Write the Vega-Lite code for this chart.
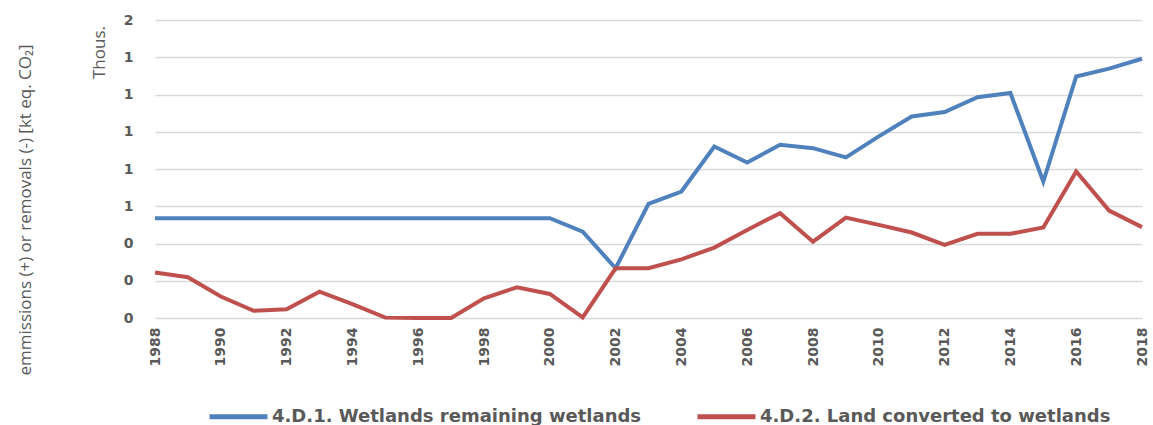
{
  "$schema": "https://vega.github.io/schema/vega-lite/v6.json",
  "width": 987,
  "height": 298,
  "autosize": {"type": "none"},
  "padding": {"left": 155, "top": 20, "right": 11, "bottom": 107},
  "background": "white",
  "title": {
    "text": "emmissions (+) or removals (-) [kt eq. CO₂]",
    "orient": "left",
    "anchor": "middle",
    "font": "Open Sans",
    "fontSize": 17,
    "fontWeight": "normal",
    "color": "#595959",
    "offset": 55,
    "dx": -41
  },
  "config": {
    "view": {"stroke": null},
    "font": "Open Sans"
  },
  "data": {
    "values": [
      {"year": 1988, "series": "4.D.1. Wetlands remaining wetlands", "value": 536},
      {"year": 1989, "series": "4.D.1. Wetlands remaining wetlands", "value": 536},
      {"year": 1990, "series": "4.D.1. Wetlands remaining wetlands", "value": 536},
      {"year": 1991, "series": "4.D.1. Wetlands remaining wetlands", "value": 536},
      {"year": 1992, "series": "4.D.1. Wetlands remaining wetlands", "value": 536},
      {"year": 1993, "series": "4.D.1. Wetlands remaining wetlands", "value": 536},
      {"year": 1994, "series": "4.D.1. Wetlands remaining wetlands", "value": 536},
      {"year": 1995, "series": "4.D.1. Wetlands remaining wetlands", "value": 536},
      {"year": 1996, "series": "4.D.1. Wetlands remaining wetlands", "value": 536},
      {"year": 1997, "series": "4.D.1. Wetlands remaining wetlands", "value": 536},
      {"year": 1998, "series": "4.D.1. Wetlands remaining wetlands", "value": 536},
      {"year": 1999, "series": "4.D.1. Wetlands remaining wetlands", "value": 536},
      {"year": 2000, "series": "4.D.1. Wetlands remaining wetlands", "value": 536},
      {"year": 2001, "series": "4.D.1. Wetlands remaining wetlands", "value": 464},
      {"year": 2002, "series": "4.D.1. Wetlands remaining wetlands", "value": 267},
      {"year": 2003, "series": "4.D.1. Wetlands remaining wetlands", "value": 613},
      {"year": 2004, "series": "4.D.1. Wetlands remaining wetlands", "value": 679},
      {"year": 2005, "series": "4.D.1. Wetlands remaining wetlands", "value": 921},
      {"year": 2006, "series": "4.D.1. Wetlands remaining wetlands", "value": 835},
      {"year": 2007, "series": "4.D.1. Wetlands remaining wetlands", "value": 930},
      {"year": 2008, "series": "4.D.1. Wetlands remaining wetlands", "value": 912},
      {"year": 2009, "series": "4.D.1. Wetlands remaining wetlands", "value": 862},
      {"year": 2010, "series": "4.D.1. Wetlands remaining wetlands", "value": 975},
      {"year": 2011, "series": "4.D.1. Wetlands remaining wetlands", "value": 1082},
      {"year": 2012, "series": "4.D.1. Wetlands remaining wetlands", "value": 1106},
      {"year": 2013, "series": "4.D.1. Wetlands remaining wetlands", "value": 1185},
      {"year": 2014, "series": "4.D.1. Wetlands remaining wetlands", "value": 1208},
      {"year": 2015, "series": "4.D.1. Wetlands remaining wetlands", "value": 733},
      {"year": 2016, "series": "4.D.1. Wetlands remaining wetlands", "value": 1297},
      {"year": 2017, "series": "4.D.1. Wetlands remaining wetlands", "value": 1339},
      {"year": 2018, "series": "4.D.1. Wetlands remaining wetlands", "value": 1392},
      {"year": 1988, "series": "4.D.2. Land converted to wetlands", "value": 244},
      {"year": 1989, "series": "4.D.2. Land converted to wetlands", "value": 219},
      {"year": 1990, "series": "4.D.2. Land converted to wetlands", "value": 115},
      {"year": 1991, "series": "4.D.2. Land converted to wetlands", "value": 39},
      {"year": 1992, "series": "4.D.2. Land converted to wetlands", "value": 47},
      {"year": 1993, "series": "4.D.2. Land converted to wetlands", "value": 141},
      {"year": 1994, "series": "4.D.2. Land converted to wetlands", "value": 75},
      {"year": 1995, "series": "4.D.2. Land converted to wetlands", "value": 2},
      {"year": 1996, "series": "4.D.2. Land converted to wetlands", "value": 0},
      {"year": 1997, "series": "4.D.2. Land converted to wetlands", "value": 0},
      {"year": 1998, "series": "4.D.2. Land converted to wetlands", "value": 106},
      {"year": 1999, "series": "4.D.2. Land converted to wetlands", "value": 165},
      {"year": 2000, "series": "4.D.2. Land converted to wetlands", "value": 129},
      {"year": 2001, "series": "4.D.2. Land converted to wetlands", "value": 3},
      {"year": 2002, "series": "4.D.2. Land converted to wetlands", "value": 267},
      {"year": 2003, "series": "4.D.2. Land converted to wetlands", "value": 267},
      {"year": 2004, "series": "4.D.2. Land converted to wetlands", "value": 315},
      {"year": 2005, "series": "4.D.2. Land converted to wetlands", "value": 378},
      {"year": 2006, "series": "4.D.2. Land converted to wetlands", "value": 473},
      {"year": 2007, "series": "4.D.2. Land converted to wetlands", "value": 563},
      {"year": 2008, "series": "4.D.2. Land converted to wetlands", "value": 410},
      {"year": 2009, "series": "4.D.2. Land converted to wetlands", "value": 539},
      {"year": 2010, "series": "4.D.2. Land converted to wetlands", "value": 500},
      {"year": 2011, "series": "4.D.2. Land converted to wetlands", "value": 459},
      {"year": 2012, "series": "4.D.2. Land converted to wetlands", "value": 392},
      {"year": 2013, "series": "4.D.2. Land converted to wetlands", "value": 452},
      {"year": 2014, "series": "4.D.2. Land converted to wetlands", "value": 452},
      {"year": 2015, "series": "4.D.2. Land converted to wetlands", "value": 486},
      {"year": 2016, "series": "4.D.2. Land converted to wetlands", "value": 787},
      {"year": 2017, "series": "4.D.2. Land converted to wetlands", "value": 577},
      {"year": 2018, "series": "4.D.2. Land converted to wetlands", "value": 488}
    ]
  },
  "mark": {"type": "line", "strokeWidth": 4, "strokeJoin": "miter", "strokeCap": "butt"},
  "encoding": {
    "x": {
      "field": "year",
      "type": "quantitative",
      "scale": {"domain": [1988, 2018], "nice": false, "zero": false},
      "axis": {
        "title": null,
        "values": [1988, 1990, 1992, 1994, 1996, 1998, 2000, 2002, 2004, 2006, 2008, 2010, 2012, 2014, 2016, 2018],
        "format": "d",
        "labelAngle": -90,
        "labelAlign": "right",
        "labelBaseline": "middle",
        "labelPadding": 9,
        "labelFontSize": 14,
        "labelFontWeight": "bold",
        "labelColor": "#595959",
        "labelFont": "DejaVu Sans",
        "ticks": false,
        "domain": false,
        "grid": false,
        "labelFlush": false,
        "labelOverlap": false
      }
    },
    "y": {
      "field": "value",
      "type": "quantitative",
      "scale": {"domain": [0, 1600], "nice": false},
      "axis": {
        "title": "Thous.",
        "titleFont": "Open Sans",
        "titleFontSize": 17,
        "titleFontWeight": "normal",
        "titleColor": "#595959",
        "titleAngle": -90,
        "titleX": -56,
        "titleY": 32,
        "titleAlign": "center",
        "titleBaseline": "middle",
        "values": [0, 200, 400, 600, 800, 1000, 1200, 1400, 1600],
        "labelExpr": "format(datum.value / 1000, '.0f')",
        "labelFontSize": 14,
        "labelFontWeight": "bold",
        "labelColor": "#595959",
        "labelFont": "DejaVu Sans",
        "labelPadding": 22,
        "ticks": false,
        "domain": false,
        "grid": true,
        "gridColor": "#d9d9d9",
        "gridWidth": 1.5
      }
    },
    "color": {
      "field": "series",
      "type": "nominal",
      "scale": {
        "domain": ["4.D.1. Wetlands remaining wetlands", "4.D.2. Land converted to wetlands"],
        "range": ["#4F81BD", "#C0504D"]
      },
      "legend": {
        "title": null,
        "orient": "none",
        "direction": "horizontal",
        "legendX": 52,
        "legendY": 365,
        "symbolType": "stroke",
        "symbolSize": 3364,
        "symbolStrokeWidth": 5,
        "labelFont": "DejaVu Sans",
        "labelFontSize": 18,
        "labelFontWeight": "bold",
        "labelColor": "#595959",
        "labelLimit": 0,
        "labelOffset": 2,
        "columnPadding": 45
      }
    }
  }
}
